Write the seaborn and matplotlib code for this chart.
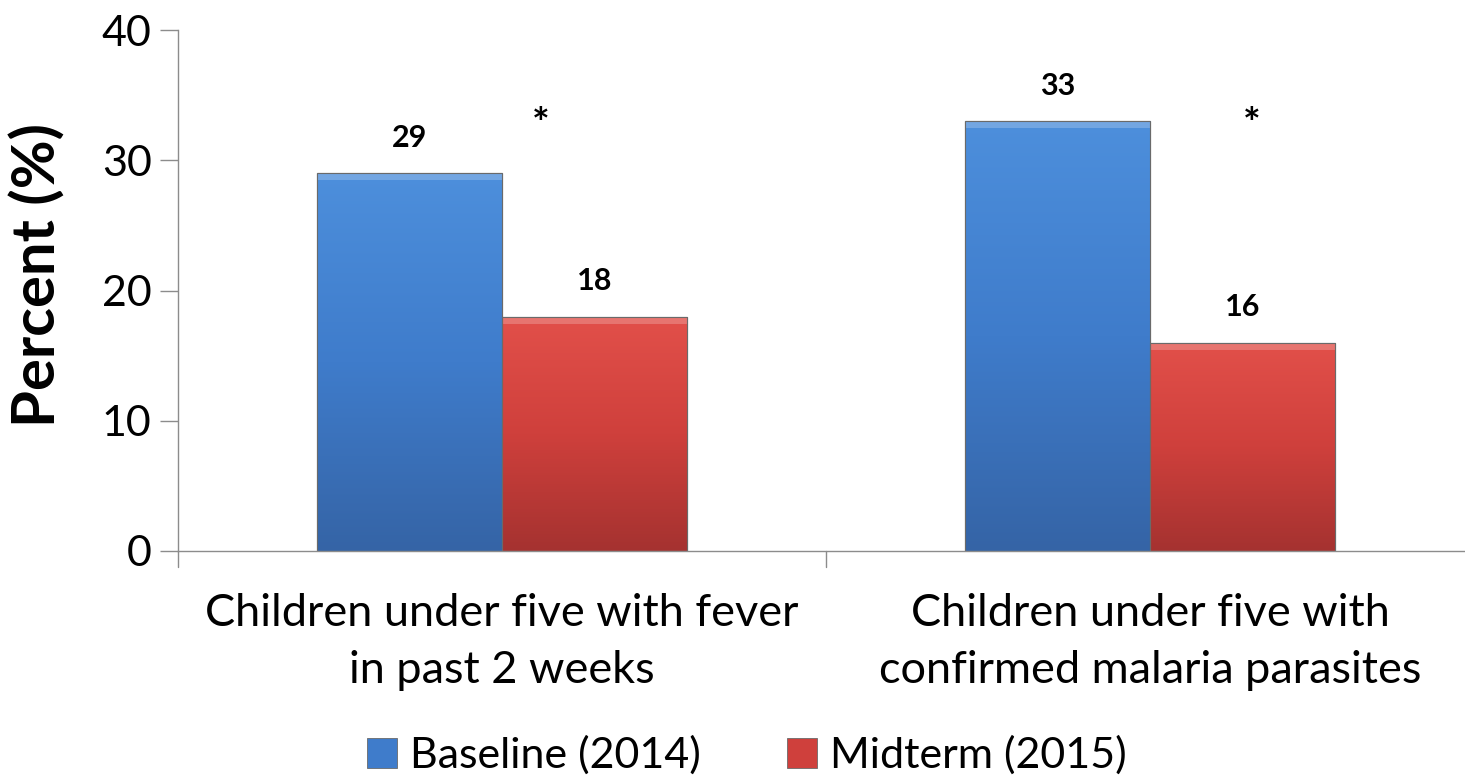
import numpy as np
import pandas as pd
import matplotlib
matplotlib.use("Agg")
import matplotlib.pyplot as plt
from matplotlib.colors import LinearSegmentedColormap
from matplotlib.patches import Rectangle
import seaborn as sns

categories = ["Children under five with fever\nin past 2 weeks",
              "Children under five with\nconfirmed malaria parasites"]
series = ["Baseline (2014)", "Midterm (2015)"]
baseline = [29, 33]
midterm = [18, 16]
significant = ["*", "*"]

df = pd.DataFrame({
    "category": categories * 2,
    "period": [series[0]] * 2 + [series[1]] * 2,
    "value": baseline + midterm,
})

sns.set_theme(style="white")
plt.rcParams["font.family"] = ["Lato", "DejaVu Sans"]
plt.rcParams["text.color"] = "black"
plt.rcParams["xtick.color"] = "black"
plt.rcParams["ytick.color"] = "black"
plt.rcParams["axes.labelcolor"] = "black"

top_colors = {"Baseline (2014)": "#4d8fdc", "Midterm (2015)": "#e2504a"}
bot_colors = {"Baseline (2014)": "#3564a6", "Midterm (2015)": "#a53230"}
mid_colors = {"Baseline (2014)": "#3f7ccb", "Midterm (2015)": "#cf403c"}

fig = plt.figure(figsize=(14.65, 7.81), dpi=100)
ax = fig.add_axes([178 / 1465, 1 - 551 / 781, (1474 - 178) / 1465, (551 - 30) / 781])

sns.barplot(data=df, x="category", y="value", hue="period", order=categories,
            hue_order=series, palette=mid_colors, width=0.571, dodge=True,
            ax=ax, legend=False, edgecolor="#5a5a5a", linewidth=0.8, saturation=1)

# vertical gradient fill for each bar, lighter at the top
for container, name in zip(ax.containers, series):
    cmap = LinearSegmentedColormap.from_list(
        name, [bot_colors[name], mid_colors[name], top_colors[name]])
    grad = np.linspace(0, 1, 256).reshape(-1, 1)
    for bar in container:
        x0, y0 = bar.get_x(), bar.get_y()
        w, h = bar.get_width(), bar.get_height()
        im = ax.imshow(grad, extent=[x0, x0 + w, y0, y0 + h], origin="lower",
                       cmap=cmap, aspect="auto", zorder=bar.get_zorder() + 0.1)
        im.set_clip_path(bar)
        # light bevel along the top edge
        ax.add_patch(Rectangle((x0, y0 + h - 0.55), w, 0.55, facecolor="white",
                               alpha=0.22, edgecolor="none",
                               zorder=bar.get_zorder() + 0.2))
        ax.add_patch(Rectangle((x0, y0), w, h, facecolor="none",
                               edgecolor="#6a6a6a", linewidth=0.8,
                               zorder=bar.get_zorder() + 0.3))

# value labels
for container, vals in zip(ax.containers, [baseline, midterm]):
    for bar, v in zip(container, vals):
        ax.text(bar.get_x() + bar.get_width() / 2, v + 2.7, f"{v}",
                ha="center", va="center", fontsize=22, fontweight="bold",
                color="black", zorder=5)

# significance markers
star_x = [0.06, 1.157]
for xpos, s in zip(star_x, significant):
    ax.text(xpos, 32.6, s, ha="center", va="center", fontsize=30,
            fontweight="bold", color="black")

ax.set_xlim(-0.5, 1.5)
ax.set_ylim(0, 40)
ax.set_yticks([0, 10, 20, 30, 40])
ax.set_xticks([0, 1])
ax.set_xticklabels(categories, fontsize=32.5, linespacing=1.5)
ax.tick_params(axis="y", labelsize=31, length=13, width=1, color="#8c8c8c",
               direction="out", left=True, pad=6)
ax.tick_params(axis="x", bottom=False, pad=24)
# category separators along the x axis
for xb in [-0.5, 0.5, 1.5]:
    ax.plot([xb, xb], [0, -1.25], color="#8c8c8c", lw=1, clip_on=False)

ax.set_xlabel("")
ax.set_ylabel("Percent (%)", fontsize=43, fontweight="bold")
ax.yaxis.set_label_coords(-(178 - 66) / 1296, (551 - 275) / 521)

for side in ["top", "right"]:
    ax.spines[side].set_visible(False)
for side in ["left", "bottom"]:
    ax.spines[side].set_color("#8c8c8c")
    ax.spines[side].set_linewidth(1)

handles = [Rectangle((0, 0), 1, 1, facecolor=mid_colors[s], edgecolor="#6a6a6a",
                     linewidth=0.6) for s in series]
fig.legend(handles, series, loc="center", bbox_to_anchor=(0.51, 1 - 755 / 781),
           ncol=2, frameon=False, fontsize=31, handlelength=0.7,
           handleheight=0.7, handletextpad=0.3, columnspacing=2.0)

fig.savefig("out.png", dpi=100)
